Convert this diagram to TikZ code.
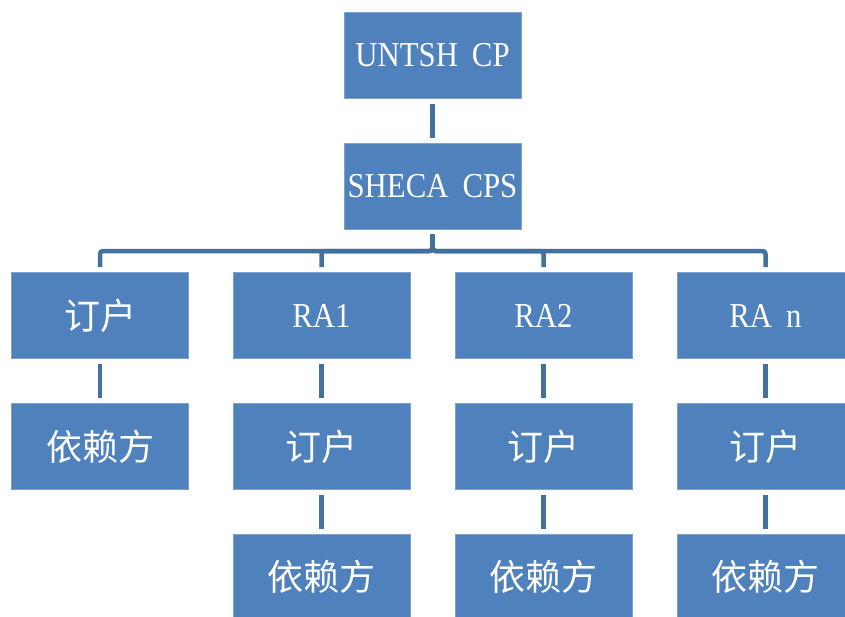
\documentclass[tikz,border=0pt]{standalone}
\usepackage{fontspec}
\setmainfont{Liberation Serif}[FakeStretch=0.88]
\newfontfamily\cjk{Noto Sans CJK SC}
\usepackage{tikz}
\definecolor{boxblue}{HTML}{4F81BD}
\definecolor{boxedge}{HTML}{7FA2CF}
\definecolor{linkblue}{HTML}{41719C}
\tikzset{
  unit/.style={fill=boxblue, draw=boxedge, line width=0.8pt, minimum width=177pt, minimum height=86pt,
    inner sep=0pt, text=white, font=\fontsize{35}{40}\selectfont},
  cn/.style={font=\cjk\fontsize{36}{40}\selectfont},
  link/.style={draw=linkblue, line width=4.5pt, shorten <=5pt, shorten >=5pt},
}

\begin{document}
\begin{tikzpicture}[x=1pt,y=-1pt]
\useasboundingbox (0,0) rectangle (845,616);

\node[unit] (ca) at (432.5,55.5) {UNTSH\hspace{.4em}CP};
\node[unit] (cps) at (432.5,186) {SHECA\hspace{.4em}CPS};
\coordinate (bus) at (432.5,251);
\draw[link] (ca) -- (cps);

% first column: subscriber and relying party
\node[unit,cn] (r1) at (100,315.5) {订户};
\node[unit,cn] (p1) at (100,446.5) {依赖方};
\draw[link] (r1) -- (p1);

% RA columns
\foreach \i/\x/\name in {2/321.5/RA1, 3/543.5/RA2, 4/765.5/RA\hspace{.4em}n}{
  \node[unit] (r\i) at (\x,315.5) {\name};
  \node[unit,cn] (s\i) at (\x,446.5) {订户};
  \node[unit,cn] (p\i) at (\x,577) {依赖方};
  \draw[link] (r\i) -- (s\i);
  \draw[link] (s\i) -- (p\i);
}

\foreach \i in {1,...,4}
  \draw[link, rounded corners=3pt] (cps) -- (bus) -| (r\i);

\end{tikzpicture}
\end{document}
